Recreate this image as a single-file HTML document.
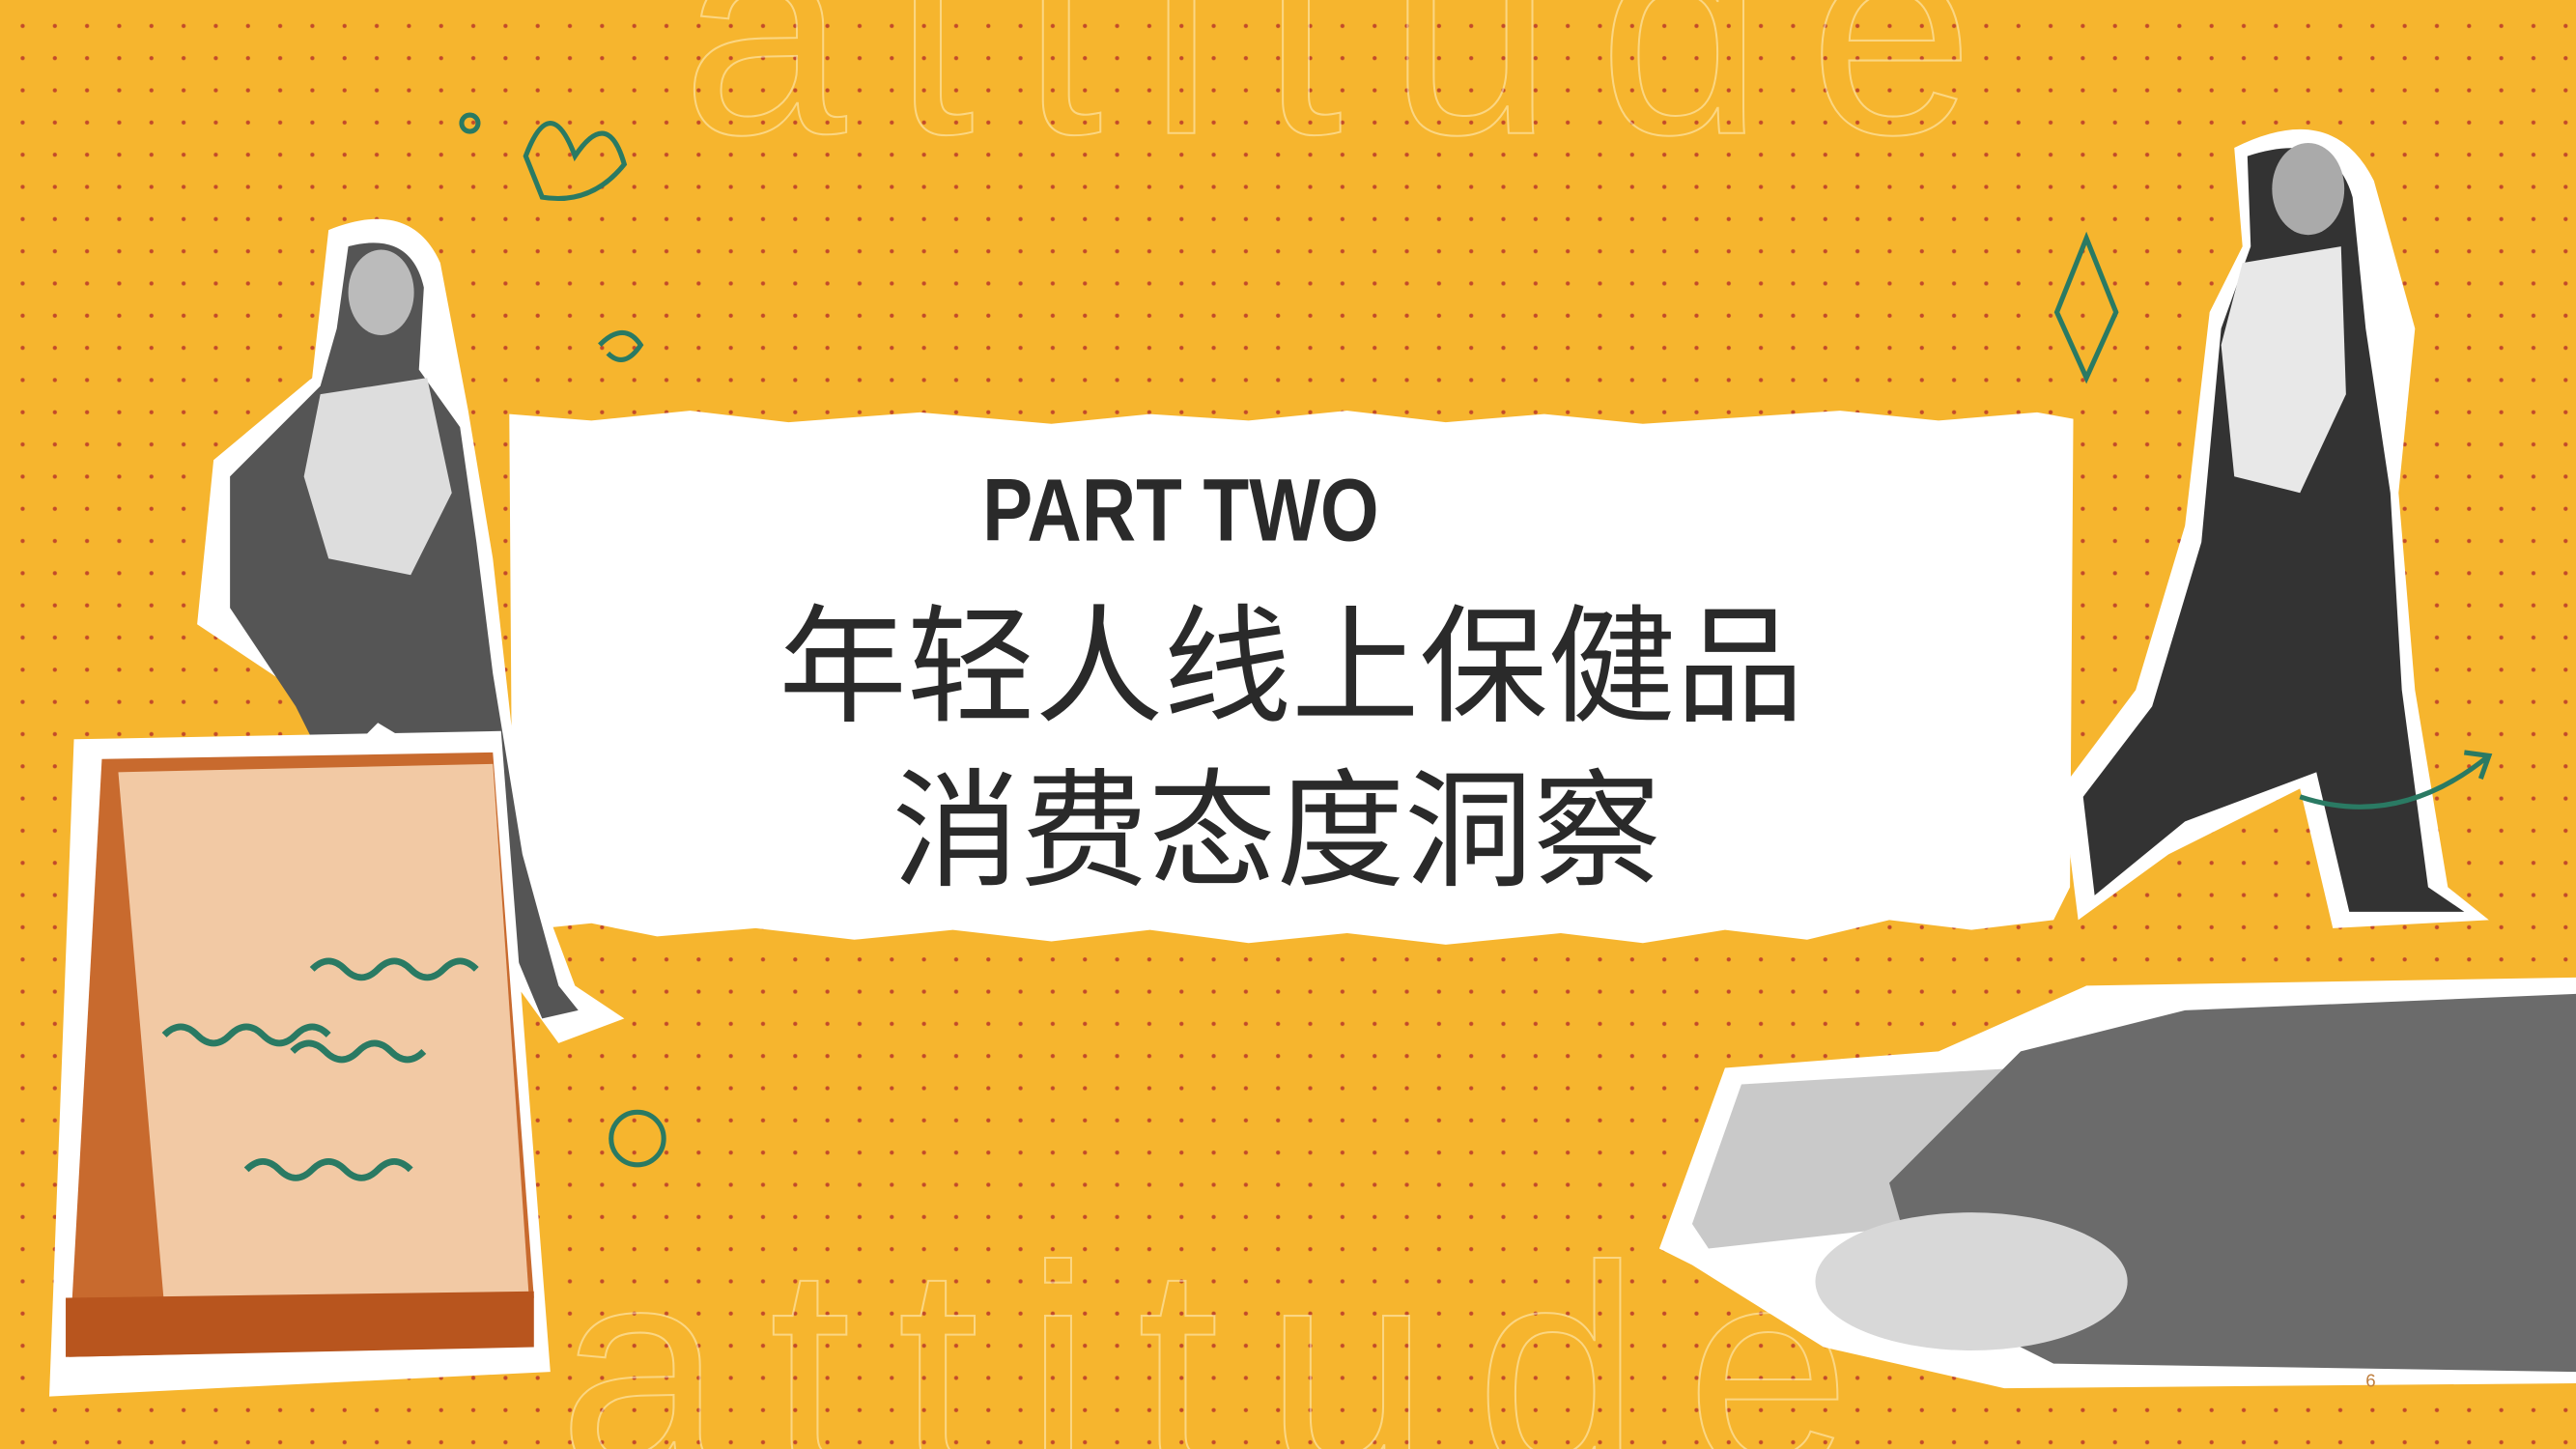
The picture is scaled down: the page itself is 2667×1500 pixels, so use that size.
<!DOCTYPE html>
<html><head><meta charset="utf-8">
<style>
html,body{margin:0;padding:0;}
body{width:2667px;height:1500px;overflow:hidden;background:#F6B52E;}
#stage{position:absolute;left:0;top:0;width:1568px;height:882px;transform:scale(1.70089,1.70068);transform-origin:0 0;
background-color:#F6B52E;
background-image:radial-gradient(circle,#C24A2A 1px,transparent 1.5px);
background-size:19.6px 19.6px;background-position:4px 6px;overflow:hidden;}
.abs{position:absolute;}
.big{font-family:"Liberation Sans",sans-serif;font-size:180px;color:transparent;-webkit-text-stroke:1.2px rgba(255,240,200,0.55);letter-spacing:28px;line-height:1;white-space:nowrap;}
</style></head>
<body>
<div id="stage">
  <div class="abs big" style="left:415px;top:-70px">attitude</div>
  <div class="abs big" style="left:340px;top:745px">attitude</div>

  <svg class="abs" style="left:0;top:0" width="1568" height="882">
    <path fill="#fff" d="M310,252 L360,256 420,250 480,257 560,251 640,258 700,252 760,256 820,250 880,257 940,252 1000,258 1060,254 1120,250 1180,256 1240,251 1262,255 L1260,540 1250,560 1200,566 1150,560 1100,572 1050,566 1000,574 950,568 880,575 820,568 760,574 700,566 640,573 580,566 520,572 460,565 400,570 360,562 320,566 312,540 Z"/>
    <g>
      <path fill="#fff" d="M200,140 Q250,120 268,160 L285,250 300,340 320,520 350,600 380,620 340,635 300,580 275,470 210,470 180,420 120,380 130,280 190,230 Z"/>
      <path fill="#555" d="M212,150 Q250,140 258,175 L255,225 280,260 290,330 300,410 318,520 340,600 352,615 330,620 305,560 280,470 230,440 200,470 180,430 140,370 140,290 195,235 205,200 Z"/>
      <path fill="#ddd" d="M195,240 L260,230 275,300 250,350 200,340 185,290 Z"/>
      <ellipse cx="232" cy="178" rx="20" ry="26" fill="#bbb"/>
    </g>
    <g>
      <path fill="#fff" d="M1360,90 Q1420,60 1445,110 L1470,200 1460,300 1470,420 1490,540 1515,560 1420,565 1400,480 1320,520 1265,560 1255,480 1300,420 1330,320 1345,190 1365,150 Z"/>
      <path fill="#333" d="M1368,95 Q1420,78 1432,120 L1440,200 1455,300 1462,420 1478,540 1500,555 1430,555 1410,470 1330,500 1275,545 1268,485 1310,430 1340,330 1352,200 1370,150 Z"/>
      <path fill="#e8e8e8" d="M1365,160 L1425,150 1428,240 1400,300 1360,290 1352,210 Z"/>
      <ellipse cx="1405" cy="115" rx="22" ry="28" fill="#aaa"/>
    </g>
    <g>
      <path fill="#fff" d="M45,450 L305,445 335,835 30,850 Z"/>
      <path fill="#C86A2E" d="M62,462 L300,458 325,790 300,820 42,826 Z"/>
      <path fill="#F2C9A4" d="M72,470 L300,465 322,790 100,795 Z"/>
      <path fill="#B8551E" d="M40,790 L325,786 325,820 40,826 Z"/>
      <path d="M190,590 q10,-10 20,0 t20,0 t20,0 t20,0 t20,0 M100,630 q10,-10 20,0 t20,0 t20,0 t20,0 t20,0 M178,640 q10,-10 20,0 t20,0 t20,0 t20,0 M150,712 q10,-10 20,0 t20,0 t20,0 t20,0 t20,0" stroke="#2A7A63" stroke-width="4" fill="none"/>
    </g>
    <g>
      <path fill="#fff" d="M1010,760 L1050,650 1180,640 1270,600 1568,595 1568,842 1220,845 1110,820 1030,770 Z"/>
      <path fill="#C9C9C9" d="M1030,745 L1060,660 1230,650 1220,740 1040,760 Z"/>
      <path fill="#6b6b6b" d="M1150,720 L1230,640 1330,615 1568,605 1568,835 1250,830 1170,790 Z"/>
      <ellipse cx="1200" cy="780" rx="95" ry="42" fill="#d8d8d8"/>
    </g>
    <g stroke="#2A7A63" stroke-width="3" fill="none">
      <path d="M320,95 q15,-40 30,0 q20,-30 30,5 q-20,25 -50,20 z"/>
      <circle cx="286" cy="75" r="5"/>
      <path d="M365,210 q15,-15 25,0 q-10,15 -20,5"/>
      <path d="M1270,145 l18,45 -18,40 -18,-40 z"/>
      <path d="M1400,485 q60,20 115,-25 M1500,458 l15,2 -5,14"/>
      <circle cx="388" cy="693" r="16"/>
    </g>
  </svg>

  <div class="abs" style="left:598px;top:280px;font-family:'Liberation Sans',sans-serif;font-weight:bold;font-size:54px;color:#2a2a2a;transform:scaleX(0.85);transform-origin:0 0;">PART TWO</div>
  <div class="abs" style="left:474px;top:356px;font-family:'Liberation Sans','Noto Sans CJK SC',sans-serif;font-size:78px;line-height:1.3;color:#2a2a2a;white-space:nowrap;">年轻人线上保健品</div>
  <div class="abs" style="left:543px;top:456px;font-family:'Liberation Sans','Noto Sans CJK SC',sans-serif;font-size:78px;line-height:1.3;color:#2a2a2a;white-space:nowrap;">消费态度洞察</div>
  <div class="abs" style="left:1440px;top:835px;font-family:'Liberation Sans',sans-serif;font-size:11px;color:#c08040;">6</div>
</div>
</body></html>
